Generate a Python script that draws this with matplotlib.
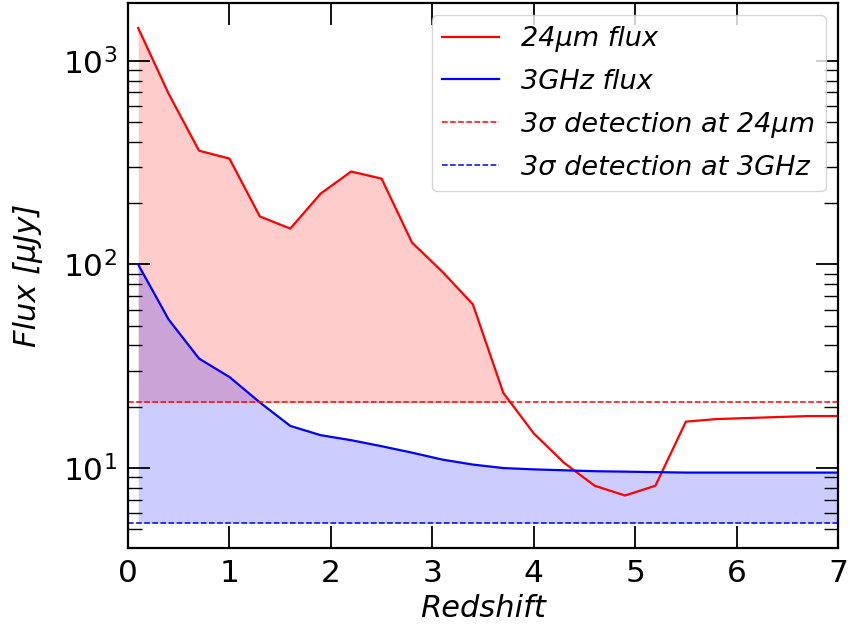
import matplotlib
matplotlib.use("Agg")
import matplotlib.pyplot as plt
import numpy as np

# redshift grid and fluxes
redshift = [0.1, 0.4, 0.7, 1.0, 1.3, 1.6, 1.9, 2.2, 2.5, 2.8, 3.1, 3.4,
            3.7, 4.0, 4.3, 4.6, 4.9, 5.2, 5.5, 5.8, 6.1, 6.4, 6.7, 7.0]
flux24 = [1450, 690, 362, 331, 172, 150, 223, 286, 264, 128, 92, 63.7,
          23.4, 14.8, 10.6, 8.19, 7.33, 8.19, 16.9, 17.4, 17.6, 17.8, 18.0, 18.0]
flux3ghz = [100, 53.7, 34.5, 28.0, 21.0, 16.1, 14.5, 13.7, 12.8, 11.9, 11.0, 10.4,
            10.0, 9.85, 9.75, 9.65, 9.6, 9.55, 9.5, 9.5, 9.5, 9.5, 9.5, 9.5]
det24 = 21.0
det3ghz = 5.36

plt.rcParams["font.family"] = "DejaVu Sans"

z = np.array(redshift)
f24 = np.array(flux24)
f3 = np.array(flux3ghz)

fig = plt.figure(figsize=(8.5, 6.3), dpi=100)
ax = fig.add_axes([0.1506, 0.1302, 0.8353, 0.8648])

ax.plot(z, f24, color="red", lw=1.6, label="24μm flux")
ax.plot(z, f3, color="blue", lw=1.6, label="3GHz flux")
ax.axhline(det24, color="red", ls="--", lw=1.1, label="3σ detection at 24μm")
ax.axhline(det3ghz, color="blue", ls="--", lw=1.1, label="3σ detection at 3GHz")

ax.fill_between(z, det24, f24, where=f24 > det24, interpolate=True,
                color="red", alpha=0.2, lw=0)
ax.fill_between(z, det3ghz, f3, color="blue", alpha=0.2, lw=0)

ax.set_yscale("log")
ax.set_xlim(0, 7)
ax.set_ylim(4.05, 1920)

ax.set_xlabel("Redshift", fontsize=22, fontstyle="italic")
ax.set_ylabel("Flux [μJy]", fontsize=22, fontstyle="italic", labelpad=14)

ax.tick_params(which="both", direction="in", top=True, right=True, labelsize=22.5)
ax.tick_params(which="major", length=16, width=1.3, pad=8)
ax.tick_params(which="minor", length=10, width=1.0)
for s in ax.spines.values():
    s.set_linewidth(1.6)

ax.legend(loc="upper right", prop={"style": "italic", "size": 19.5},
          handlelength=2.1, borderaxespad=0.45, labelspacing=0.62)

plt.savefig("out.png", dpi=100)
